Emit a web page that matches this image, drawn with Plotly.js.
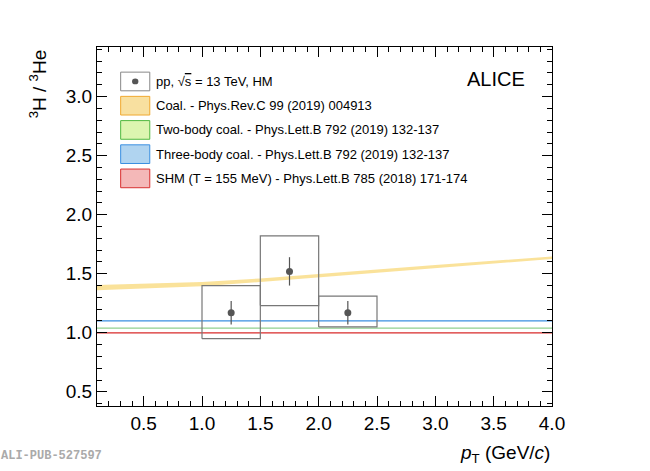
<!DOCTYPE html>
<html>
<head>
<script src="https://cdn.plot.ly/plotly-3.0.1.min.js"></script>
<style>body{margin:0}</style>
</head>
<body>
<div id="graph" style="width:650px;height:471px"></div>
<script>
// measured ratio, pp 13 TeV HM
let ptCenters = [1.25, 1.75, 2.25];
let ptLow = [1.0, 1.5, 2.0];
let ptHigh = [1.5, 2.0, 2.5];
let ratio = [1.17, 1.52, 1.17];
let statErr = [0.10, 0.12, 0.10];
let systLow = [0.95, 1.23, 1.05];
let systHigh = [1.40, 1.82, 1.31];

// coalescence band
let coalPt = [0.1, 0.5, 1.0, 1.5, 2.0, 2.5, 3.0, 3.5, 4.0];
let coalLow = [1.36, 1.375, 1.395, 1.43, 1.47, 1.51, 1.55, 1.59, 1.625];
let coalHigh = [1.405, 1.415, 1.43, 1.46, 1.495, 1.535, 1.575, 1.612, 1.645];

let twoBody = 1.04;
let threeBody = 1.10;
let shm = 1.0;

let traces = [];

traces.push({x: coalPt, y: coalLow, mode: 'lines', line: {width: 0}, hoverinfo: 'skip'});
traces.push({x: coalPt, y: coalHigh, mode: 'lines', line: {width: 0}, fill: 'tonexty',
    fillcolor: 'rgba(248,216,120,0.75)', hoverinfo: 'skip'});

let flat = [[twoBody, '#8fd08f'], [threeBody, '#3a8fe0'], [shm, '#d82a2a']];
flat.forEach(function(f) {
    traces.push({x: [0.1, 4.0], y: [f[0], f[0]], mode: 'lines', line: {color: f[1], width: 1.2}});
});

for (let i = 0; i < ptCenters.length; i++) {
    traces.push({
        x: [ptLow[i], ptHigh[i], ptHigh[i], ptLow[i], ptLow[i]],
        y: [systLow[i], systLow[i], systHigh[i], systHigh[i], systLow[i]],
        mode: 'lines', line: {color: '#777', width: 1.2}
    });
}

traces.push({
    x: ptCenters, y: ratio, mode: 'markers',
    marker: {color: '#555', size: 7},
    error_y: {type: 'data', array: statErr, color: '#555', thickness: 1.2, width: 0}
});

let legendItems = [
    ['pp, √<span style="text-decoration:overline">s</span> = 13 TeV, HM', 'white', '#888'],
    ['Coal. - Phys.Rev.C 99 (2019) 004913', '#f8e0a0', '#f0a830'],
    ['Two-body coal. - Phys.Lett.B 792 (2019) 132-137', '#dcf5b0', '#50b840'],
    ['Three-body coal. - Phys.Lett.B 792 (2019) 132-137', '#b0d4f0', '#3a8fe0'],
    ['SHM (T = 155 MeV) - Phys.Lett.B 785 (2018) 171-174', '#f4b8b8', '#d83030']
];

let shapes = [];
let annotations = [];
legendItems.forEach(function(it, i) {
    let yc = 0.904 - i * 0.0675;
    shapes.push({type: 'rect', xref: 'paper', yref: 'paper', x0: 0.052, x1: 0.116,
        y0: yc - 0.026, y1: yc + 0.026, fillcolor: it[1], line: {color: it[2], width: 1}});
    annotations.push({xref: 'paper', yref: 'paper', x: 0.126, y: yc, text: it[0],
        showarrow: false, xanchor: 'left', yanchor: 'middle', font: {size: 13, color: '#000'}});
});
shapes.push({type: 'circle', xref: 'paper', yref: 'paper', x0: 0.077, x1: 0.091,
    y0: 0.896, y1: 0.912, fillcolor: '#555', line: {width: 0}});
annotations.push({xref: 'paper', yref: 'paper', x: 0.945, y: 0.91, text: 'ALICE', showarrow: false,
    xanchor: 'right', yanchor: 'middle', font: {size: 20, color: '#000'}});
annotations.push({xref: 'paper', yref: 'paper', x: -0.215, y: -0.165, text: '<b>ALI-PUB-527597</b>',
    showarrow: false, xanchor: 'left', font: {family: 'Liberation Mono', size: 12, color: '#aaa'}});
annotations.push({xref: 'paper', yref: 'paper', x: 1.0, y: -0.095, text: '<i>p</i><sub>T</sub> (GeV/<i>c</i>)',
    showarrow: false, xanchor: 'right', yanchor: 'top', font: {size: 19, color: '#000'}});
annotations.push({xref: 'paper', yref: 'paper', x: -0.13, y: 1.0, text: '<sup>3</sup>H / <sup>3</sup>He',
    showarrow: false, textangle: -90, xanchor: 'center', yanchor: 'top', font: {size: 19, color: '#000'}});

let axisBase = {
    showgrid: false, zeroline: false, showline: true, linecolor: '#000', linewidth: 1,
    mirror: 'ticks', ticks: 'inside', ticklen: 10, tickcolor: '#000',
    tickfont: {size: 19, color: '#000'}
};

let layout = {
    showlegend: false,
    font: {family: 'Liberation Sans, Arial, sans-serif'},
    margin: {l: 97, r: 98, t: 47, b: 65},
    plot_bgcolor: 'white', paper_bgcolor: 'white',
    xaxis: Object.assign({}, axisBase, {
        range: [0.1, 4.0], dtick: 0.5, tickformat: '.1f',
        minor: {ticks: 'inside', ticklen: 5, dtick: 0.1, tickcolor: '#000'}
    }),
    yaxis: Object.assign({}, axisBase, {
        range: [0.38, 3.42], dtick: 0.5, tickformat: '.1f',
        minor: {ticks: 'inside', ticklen: 5, dtick: 0.1, tickcolor: '#000'}
    }),
    shapes: shapes,
    annotations: annotations
};

Plotly.newPlot('graph', traces, layout, {displayModeBar: false, staticPlot: true});
</script>
</body>
</html>
